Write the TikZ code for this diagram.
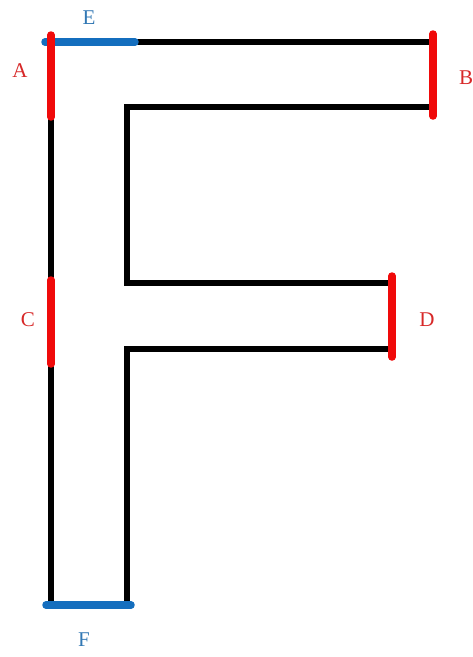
\documentclass[tikz,border=0pt]{standalone}
\usepackage{fontspec}
\setmainfont{Liberation Serif}
\usetikzlibrary{calc}
\definecolor{bred}{RGB}{240,10,10}
\definecolor{lred}{RGB}{215,40,40}
\definecolor{bblue}{RGB}{20,110,190}
\definecolor{lblue}{RGB}{50,120,180}
\tikzset{
  outline/.style={line width=5.5pt, line join=miter, black},
  redbar/.style={line width=7.5pt, line cap=round, bred},
  bluebar/.style={line width=7.5pt, line cap=round, bblue},
  redlab/.style={font=\fontsize{21}{24}\selectfont, text=lred, inner sep=0pt},
  bluelab/.style={font=\fontsize{21}{24}\selectfont, text=lblue, inner sep=0pt},
}

\begin{document}
\begin{tikzpicture}[x=1pt,y=-1pt]
  \useasboundingbox (0,0) rectangle (472,657);

  % corners of the letter
  \coordinate (TL) at (51,42);
  \coordinate (TR) at (433,42);
  \coordinate (BR) at (433,107);
  \coordinate (IT) at (127,107);
  \coordinate (MT) at (127,283);
  \coordinate (MTR) at (392,283);
  \coordinate (MBR) at (392,349);
  \coordinate (MB) at (127,349);
  \coordinate (FR) at (127,605);
  \coordinate (FL) at (51,605);

  \draw[outline] (TL) -- (TR) (BR) -- (IT) -- (MT) -- (MTR)
    (MBR) -- (MB) -- (FR) (FL) -- (TL);

  % marked edges
  \draw[bluebar] (45,42) -- (135,42);
  \draw[redbar] (51,35) -- (51,117);
  \draw[redbar] (433,34) -- (433,116);
  \draw[redbar] (51,280) -- (51,364);
  \draw[redbar] (392,276) -- (392,357);
  \draw[bluebar] (46,605) -- (131,605);

  \node[bluelab] (E) at (89,18) {E};
  \node[redlab] (A) at (20,71) {A};
  \node[redlab, anchor=west] (B) at (459,78) {B};
  \node[redlab] (C) at (28,320) {C};
  \node[redlab] (D) at (427,320) {D};
  \node[bluelab] (F) at (84,640) {F};
\end{tikzpicture}
\end{document}
